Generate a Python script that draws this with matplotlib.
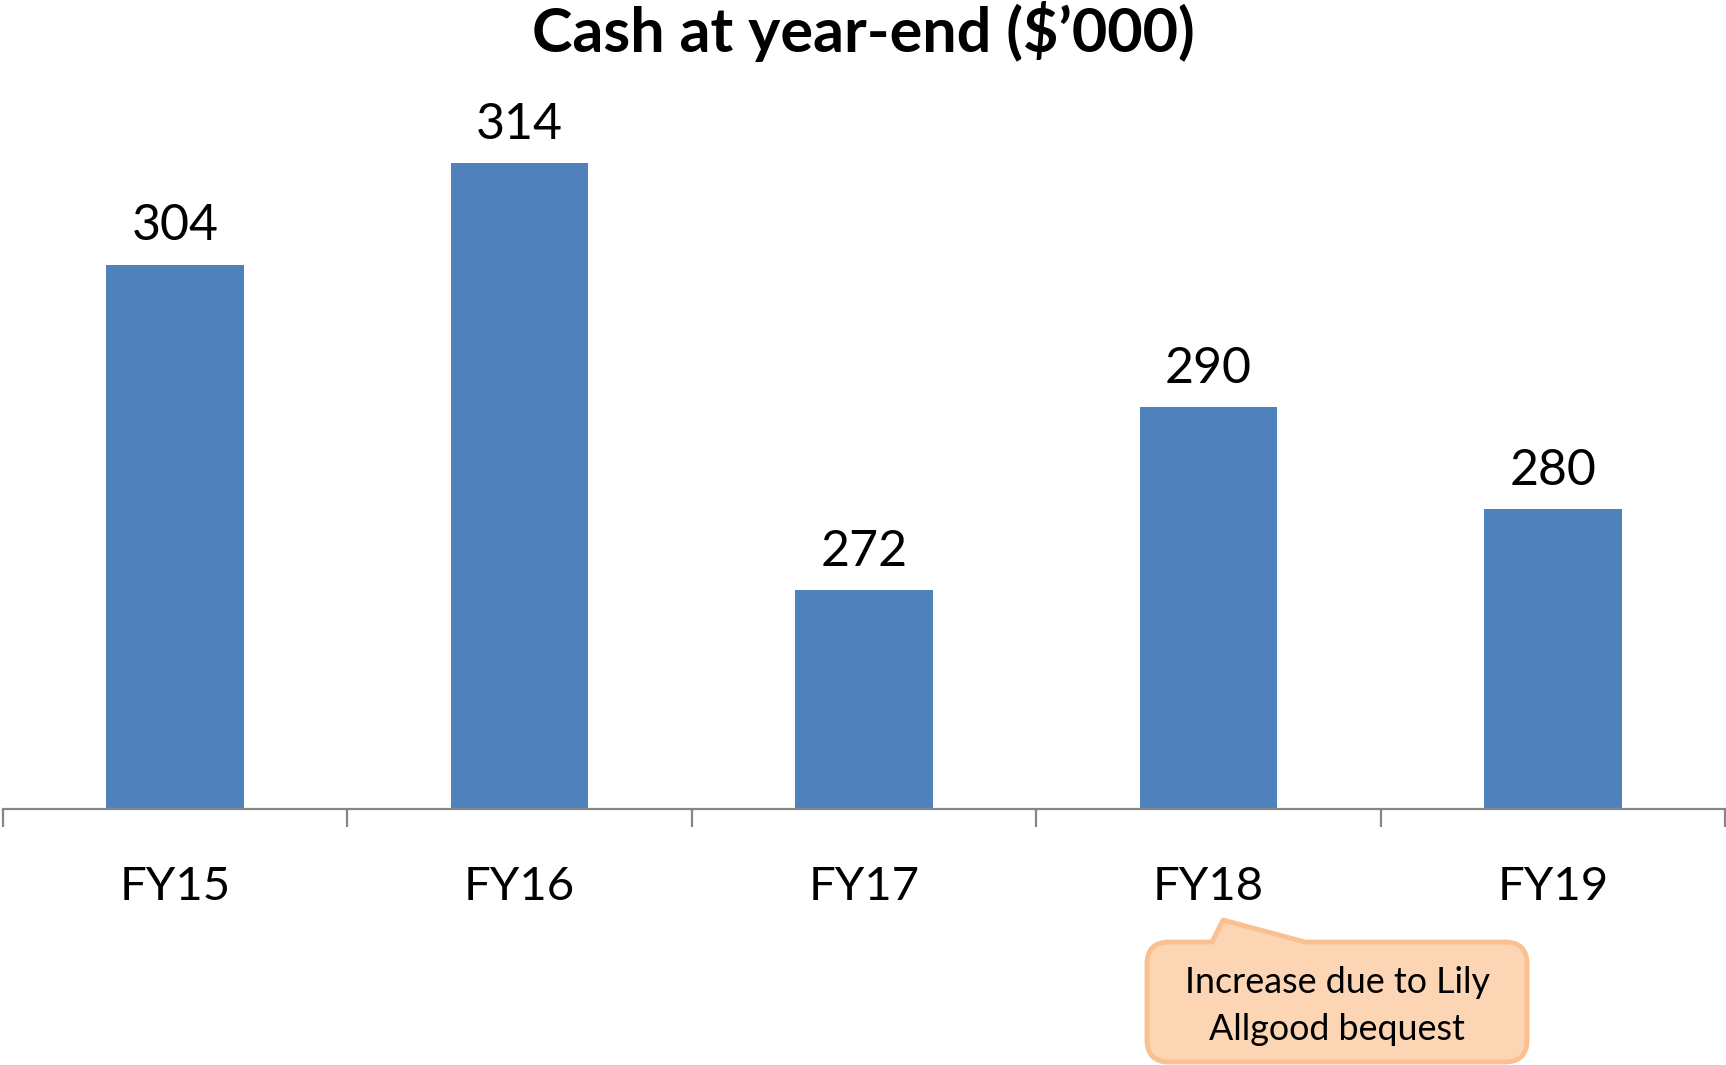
import matplotlib
matplotlib.use("Agg")
import matplotlib.pyplot as plt
from matplotlib.path import Path
from matplotlib.patches import PathPatch
import numpy as np

categories = ["FY15", "FY16", "FY17", "FY18", "FY19"]
cash = [304, 314, 272, 290, 280]
title = "Cash at year-end ($\u2019000)"
callout_text = "Increase due to Lily\nAllgood bequest"

BAR = "#4F81BD"
AXIS = "#868686"
FONT = ["Lato", "DejaVu Sans"]

W, H = 1726, 1065
fig = plt.figure(figsize=(W / 100, H / 100), dpi=100)
ax = fig.add_axes([3 / W, 1 - 809 / H, (1725 - 3) / W, (809 - 102) / H])

x = np.arange(len(categories))
ax.bar(x, cash, width=0.4, color=BAR, zorder=2)
ax.set_xlim(-0.5, len(categories) - 0.5)
ax.set_ylim(250.5, 320)

for xi, v in zip(x, cash):
    ax.annotate(f"{v}", (xi, v), xytext=(0, 17.5), textcoords="offset points",
                ha="center", va="baseline", fontsize=36, family=FONT, color="black")

for s in ["top", "right", "left"]:
    ax.spines[s].set_visible(False)
ax.spines["bottom"].set_color(AXIS)
ax.spines["bottom"].set_linewidth(1.6)
ax.set_yticks([])
ax.set_xticks(x)
ax.set_xticklabels(categories, fontsize=34, family=FONT)
ax.tick_params(axis="x", which="major", length=0, pad=41)
ax.set_xticks(np.arange(-0.5, len(categories)), minor=True)
ax.tick_params(axis="x", which="minor", length=13, width=1.6, color=AXIS, direction="out")

fig.text(863 / W, 1 - 52 / H, title, ha="center", va="baseline",
         fontsize=44, fontweight="bold", family=FONT)

# callout box (pixel coordinates, y measured from top)
x0, x1, yt, yb, r = 1147, 1527, 942, 1062, 22
pb0, pb1, tipx, tipy = 1212, 1305, 1223, 920
pts = [
    ((x0 + r, yt), Path.MOVETO),
    ((pb0, yt), Path.LINETO),
    ((tipx, tipy), Path.LINETO),
    ((pb1, yt), Path.LINETO),
    ((x1 - r, yt), Path.LINETO),
    ((x1, yt), Path.CURVE3), ((x1, yt + r), Path.CURVE3),
    ((x1, yb - r), Path.LINETO),
    ((x1, yb), Path.CURVE3), ((x1 - r, yb), Path.CURVE3),
    ((x0 + r, yb), Path.LINETO),
    ((x0, yb), Path.CURVE3), ((x0, yb - r), Path.CURVE3),
    ((x0, yt + r), Path.LINETO),
    ((x0, yt), Path.CURVE3), ((x0 + r, yt), Path.CURVE3),
    ((x0 + r, yt), Path.CLOSEPOLY),
]
verts = [(px / W, 1 - py / H) for (px, py), _ in pts]
codes = [c for _, c in pts]
patch = PathPatch(Path(verts, codes), transform=fig.transFigure,
                  facecolor="#FCD5B5", edgecolor="#FAC090", linewidth=3.5,
                  joinstyle="round", zorder=5)
fig.patches.append(patch)
fig.text((x0 + x1) / 2 / W, 1 - 1006 / H, callout_text, ha="center", va="center",
         fontsize=25.8, family=FONT, linespacing=1.5, zorder=6)

fig.savefig("out.png", dpi=100)
